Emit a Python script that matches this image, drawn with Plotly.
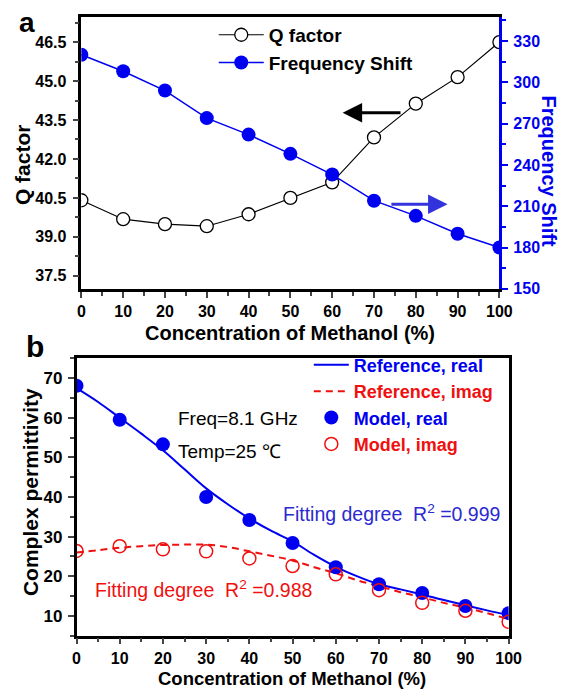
import plotly.graph_objects as go

# ---------------- data ----------------
conc = [0, 10, 20, 30, 40, 50, 60, 70, 80, 90, 100]
q_factor = [40.41, 39.68, 39.49, 39.41, 39.87, 40.50, 41.10, 42.83, 44.13, 45.15, 46.5]
freq_shift = [320, 308, 294, 274, 262, 248, 233, 214, 203, 190, 180]

model_real = [68.1, 59.5, 53.3, 40.0, 34.2, 28.4, 22.3, 18.0, 15.8, 12.5, 10.7]
model_imag = [26.4, 27.6, 26.8, 26.3, 24.5, 22.6, 20.5, 16.5, 13.3, 11.3, 8.5]

ref_conc = [0, 5, 10, 15, 20, 25, 30, 35, 40, 45, 50, 55, 60, 65, 70, 75, 80, 85, 90, 95, 100]
ref_real = [67.5, 64.0, 60.0, 56.0, 51.8, 47.0, 42.2, 38.2, 34.6, 31.5, 28.8, 25.4, 22.4, 20.0, 18.0, 16.7, 15.4, 14.0, 12.7, 11.4, 10.2]
ref_imag = [26.0, 26.6, 27.2, 27.6, 27.9, 28.0, 28.0, 27.4, 26.3, 25.2, 24.0, 22.3, 20.8, 19.0, 17.5, 16.0, 14.7, 13.3, 12.1, 10.7, 9.2]

x_ticks = [0, 10, 20, 30, 40, 50, 60, 70, 80, 90, 100]

# ---------------- style ----------------
FONT = "Liberation Sans, Arial, sans-serif"
BLUE = "#0000f0"
RED = "#f01010"
TXT_BLUE = "#2a2ad0"
W, H = 566, 693


def px_x(p):
    return p / W


def px_y(p):
    return 1 - p / H


fig = go.Figure()

# Panel a
fig.add_trace(go.Scatter(
    x=conc, y=q_factor, name="Q factor", mode="lines+markers",
    line=dict(color="black", width=1.2),
    marker=dict(symbol="circle", size=13, color="white", line=dict(color="black", width=1.3)),
    xaxis="x", yaxis="y", legend="legend"))
fig.add_trace(go.Scatter(
    x=conc, y=freq_shift, name="Frequency Shift", mode="lines+markers",
    line=dict(color=BLUE, width=1.5),
    marker=dict(symbol="circle", size=14, color=BLUE),
    xaxis="x", yaxis="y2", legend="legend"))

# Panel b
fig.add_trace(go.Scatter(
    x=ref_conc, y=ref_real, name=f'<span style="color:{BLUE}">Reference, real</span>',
    mode="lines", line=dict(color=BLUE, width=2, shape="spline"),
    xaxis="x2", yaxis="y3", legend="legend2"))
fig.add_trace(go.Scatter(
    x=ref_conc, y=ref_imag, name=f'<span style="color:{RED}">Reference, imag</span>',
    mode="lines", line=dict(color=RED, width=2, dash="7px,5px", shape="spline"),
    xaxis="x2", yaxis="y3", legend="legend2"))
fig.add_trace(go.Scatter(
    x=conc, y=model_real, name=f'<span style="color:{BLUE}">Model, real</span>',
    mode="markers", marker=dict(symbol="circle", size=14, color=BLUE),
    xaxis="x2", yaxis="y3", legend="legend2"))
fig.add_trace(go.Scatter(
    x=conc, y=model_imag, name=f'<span style="color:{RED}">Model, imag</span>',
    mode="markers", marker=dict(symbol="circle", size=13, color="rgba(0,0,0,0)", line=dict(color=RED, width=1.5)),
    xaxis="x2", yaxis="y3", legend="legend2"))

tickfont = dict(family=FONT, size=16, color="black", weight="bold")
common_x = dict(range=[0, 100], tickmode="array", tickvals=x_ticks, ticks="outside", ticklen=6, tickwidth=2,
                minor=dict(dtick=5, tick0=0, ticks="outside", ticklen=4, tickwidth=2),
                showline=True, linewidth=2.5, linecolor="black", mirror=True,
                showgrid=False, zeroline=False, tickfont=tickfont)

fig.update_layout(
    width=W, height=H,
    margin=dict(l=0, r=0, t=0, b=0),
    paper_bgcolor="white", plot_bgcolor="white",
    font=dict(family=FONT, color="black"),
    xaxis=dict(domain=[px_x(71.5), px_x(502.5)], anchor="y", **common_x),
    yaxis=dict(domain=[px_y(284.5), px_y(9)], anchor="x", range=[37.0, 47.47],
               tick0=37.5, dtick=1.5, tickformat=".1f", ticks="outside", ticklen=6, tickwidth=2,
               minor=dict(dtick=0.75, ticks="outside", ticklen=4, tickwidth=2),
               showline=True, linewidth=2.5, linecolor="black", mirror=False,
               showgrid=False, zeroline=False, tickfont=tickfont, ticklabelstandoff=3),
    yaxis2=dict(overlaying="y", side="right", anchor="x", range=[150, 347.5],
                tick0=150, dtick=30, ticks="outside", ticklen=6, tickwidth=2, tickcolor=BLUE,
                minor=dict(dtick=15, ticks="outside", ticklen=4, tickwidth=2, tickcolor=BLUE),
                showline=True, linewidth=2.5, linecolor=BLUE,
                showgrid=False, zeroline=False, ticklabelstandoff=2,
                tickfont=dict(family=FONT, size=16, color=BLUE, weight="bold")),
    xaxis2=dict(domain=[px_x(66.5), px_x(512)], anchor="y3", **common_x),
    yaxis3=dict(domain=[px_y(636), px_y(355)], anchor="x2", range=[5, 75],
                tick0=0, dtick=10, ticks="outside", ticklen=6, tickwidth=2,
                minor=dict(dtick=5, ticks="outside", ticklen=4, tickwidth=2),
                showline=True, linewidth=2.5, linecolor="black", mirror=True,
                showgrid=False, zeroline=False, ticklabelstandoff=2,
                tickfont=dict(family=FONT, size=17, color="black", weight="bold")),
    legend=dict(x=px_x(208), y=px_y(8), xanchor="left", yanchor="top",
                bgcolor="rgba(0,0,0,0)", borderwidth=0, itemwidth=45,
                font=dict(family=FONT, size=19, color="black", weight="bold")),
    legend2=dict(x=px_x(306), y=px_y(343), xanchor="left", yanchor="top",
                 bgcolor="rgba(0,0,0,0)", borderwidth=0, itemwidth=35,
                 font=dict(family=FONT, size=18, color="black", weight="bold")),
    showlegend=True,
)

ann = []
# panel letters
ann.append(dict(text="a", x=px_x(15), y=px_y(15), xref="paper", yref="paper", showarrow=False,
                font=dict(family=FONT, size=28, weight="bold"), xanchor="center", yanchor="middle"))
ann.append(dict(text="b", x=px_x(24), y=px_y(343), xref="paper", yref="paper", showarrow=False,
                font=dict(family=FONT, size=30, weight="bold"), xanchor="center", yanchor="middle"))
# axis titles panel a
ann.append(dict(text="Q factor", x=px_x(11), y=px_y(158.5), xref="paper", yref="paper", showarrow=False,
                textangle=-90, font=dict(family=FONT, size=21, weight="bold"), xanchor="center", yanchor="middle"))
ann.append(dict(text="Frequency Shift", x=px_x(554), y=px_y(165), xref="paper", yref="paper", showarrow=False,
                textangle=90, font=dict(family=FONT, size=20, color=BLUE, weight="bold"), xanchor="center", yanchor="middle"))
ann.append(dict(text="Concentration of Methanol (%)", x=px_x(287), y=px_y(329), xref="paper", yref="paper",
                showarrow=False, font=dict(family=FONT, size=20, weight="bold"), xanchor="center", yanchor="middle"))
# axis titles panel b
ann.append(dict(text="Complex permittivity", x=px_x(19), y=px_y(490), xref="paper", yref="paper", showarrow=False,
                textangle=-90, font=dict(family=FONT, size=21, weight="bold"), xanchor="center", yanchor="middle"))
ann.append(dict(text="Concentration of Methanol (%)", x=px_x(289), y=px_y(679), xref="paper", yref="paper",
                showarrow=False, font=dict(family=FONT, size=18.5, weight="bold"), xanchor="center", yanchor="middle"))
# arrows panel a
ann.append(dict(x=62.5, y=43.78, ax=76.7, ay=43.78, xref="x", yref="y", axref="x", ayref="y",
                text="", showarrow=True, arrowhead=2, arrowsize=1.3, arrowwidth=3, arrowcolor="black", standoff=0))
ann.append(dict(x=87.6, y=40.26, ax=73.8, ay=40.26, xref="x", yref="y", axref="x", ayref="y",
                text="", showarrow=True, arrowhead=2, arrowsize=1.3, arrowwidth=3, arrowcolor="#3333dd", standoff=0))
# text panel b
ann.append(dict(text="Freq=8.1 GHz", x=23.1, y=59.8, xref="x2", yref="y3", showarrow=False,
                xanchor="left", yanchor="middle", font=dict(family=FONT, size=19, color="black")))
ann.append(dict(text="Temp=25 ℃", x=23.1, y=51.6, xref="x2", yref="y3", showarrow=False,
                xanchor="left", yanchor="middle", font=dict(family=FONT, size=19, color="black")))
ann.append(dict(text="Fitting degree  R<sup>2</sup> =0.999", x=47.4, y=36.1, xref="x2", yref="y3", showarrow=False,
                xanchor="left", yanchor="middle", font=dict(family=FONT, size=19.5, color=TXT_BLUE)))
ann.append(dict(text="Fitting degree  R<sup>2</sup> =0.988", x=3.9, y=16.9, xref="x2", yref="y3", showarrow=False,
                xanchor="left", yanchor="middle", font=dict(family=FONT, size=19.5, color=RED)))

fig.update_layout(annotations=ann)

fig.write_html("out.html")
